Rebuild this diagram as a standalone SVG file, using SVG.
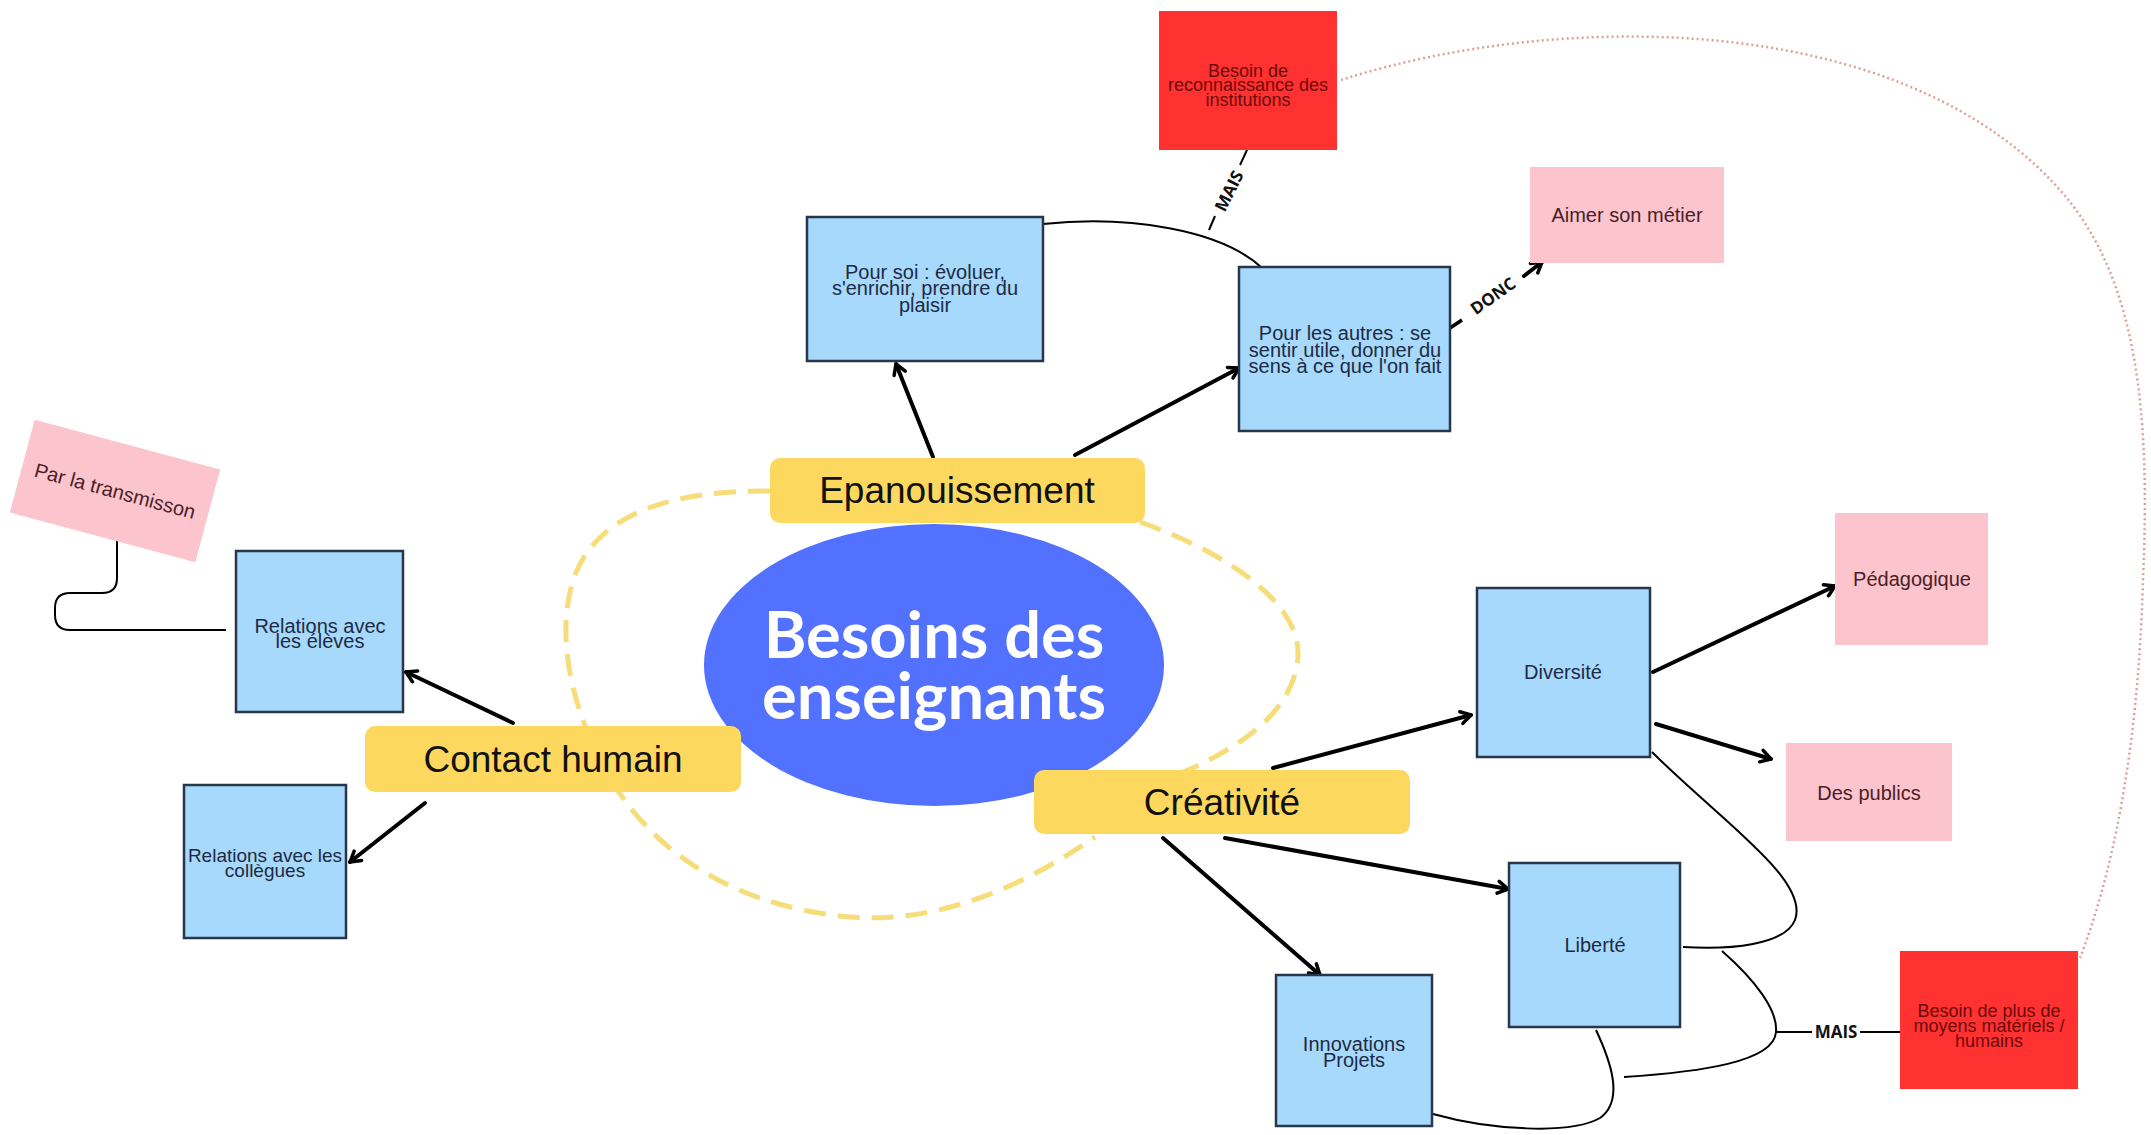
<svg xmlns="http://www.w3.org/2000/svg" width="2151" height="1135" viewBox="0 0 2151 1135">
<style>
.bg{fill:#ffffff}
.box{fill:#a6d9fb;stroke:#27364a;stroke-width:2.5}
.pink{fill:#fcc4cc}
.red{fill:#ff3131}
.pill{fill:#fdd85e}
.t{font-family:"Liberation Sans",Arial,sans-serif;text-anchor:middle}
.tb{fill:#1e2a44;font-size:20px}
.tp{fill:#4a2028;font-size:20px}
.tr{fill:#6b0a0a;font-size:18px}
.tpill{fill:#111111;font-size:37px}
.title{font-family:Lato,"Open Sans",sans-serif;font-weight:700;font-size:65px;fill:#ffffff;text-anchor:middle}
.arrow{stroke:#000;stroke-width:4;fill:none;stroke-linecap:round;marker-end:url(#ah)}
.thin{stroke:#000;stroke-width:2;fill:none}
.lbl{font-family:"Open Sans","Liberation Sans",sans-serif;font-weight:700;font-size:17px;fill:#111;text-anchor:middle}
.dash{stroke:#f6dd7a;stroke-width:5;fill:none;stroke-dasharray:22 12}
.dot{stroke:#d9a394;stroke-width:2.5;fill:none;stroke-dasharray:2 3}
</style>
<defs>
<marker id="ah" viewBox="0 0 16 16" refX="13" refY="8" markerWidth="16" markerHeight="16" markerUnits="userSpaceOnUse" orient="auto">
<path d="M3,2 L13,8 L3,14" fill="none" stroke="#000" stroke-width="3.5" stroke-linecap="round" stroke-linejoin="round"/>
</marker>
</defs>
<rect class="bg" x="0" y="0" width="2151" height="1135"/>

<g id="connectors">
<path class="dash" d="M770,491 C680,490 600,510 575,575 C555,630 570,700 600,760 C640,840 720,905 850,917 C950,925 1040,875 1095,837"/>
<path class="dash" d="M1140,522 C1220,550 1300,600 1298,655 C1296,705 1250,745 1176,775"/>
<path class="dot" d="M1341,80 C1560,10 1900,10 2060,190 C2140,280 2150,420 2143,580 C2138,760 2110,880 2080,958"/>
<line class="arrow" x1="933" y1="457" x2="896" y2="364"/>
<line class="arrow" x1="1075" y1="455" x2="1239" y2="368"/>
<line class="arrow" x1="513" y1="723" x2="406" y2="672"/>
<line class="arrow" x1="425" y1="803" x2="350" y2="862"/>
<line class="arrow" x1="1273" y1="768" x2="1471" y2="715"/>
<line class="arrow" x1="1225" y1="838" x2="1508" y2="889"/>
<line class="arrow" x1="1163" y1="838" x2="1320" y2="975"/>
<line class="arrow" x1="1653" y1="672" x2="1835" y2="586"/>
<line class="arrow" x1="1656" y1="724" x2="1771" y2="759"/>
<path class="thin" d="M1043,224 C1130,215 1220,230 1261,267"/>
<line class="thin" x1="1247" y1="150" x2="1240" y2="165"/>
<line class="thin" x1="1215" y1="216" x2="1209" y2="230"/>
<text class="lbl" x="1229" y="197" transform="rotate(-63 1229 191)">MAIS</text>
<line class="thin" style="stroke-width:3.5" x1="1444" y1="332" x2="1462" y2="320"/>
<line class="arrow" x1="1524" y1="276" x2="1542" y2="262"/>
<text class="lbl" x="1493" y="302" transform="rotate(-35 1493 296)">DONC</text>
<path class="thin" d="M117,541 L117,578 Q117,593 102,593 L70,593 Q55,593 55,608 L55,615 Q55,630 70,630 L226,630"/>
<path class="thin" d="M1652,752 C1720,820 1810,880 1795,920 C1785,945 1730,950 1683,947"/>
<path class="thin" d="M1722,951 C1755,980 1778,1010 1776,1032 C1774,1062 1700,1072 1624,1077"/>
<path class="thin" d="M1596,1030 C1610,1060 1625,1100 1600,1118 C1570,1135 1490,1130 1433,1114"/>
<line class="thin" x1="1776" y1="1032" x2="1812" y2="1032"/>
<line class="thin" x1="1860" y1="1032" x2="1900" y2="1032"/>
<text class="lbl" x="1836" y="1038">MAIS</text>
</g>

<g id="center">
<ellipse cx="934" cy="665" rx="230" ry="141" fill="#5271ff"/>
<text class="title" x="934" y="658">Besoins des</text>
<text class="title" x="934" y="719">enseignants</text>
</g>

<g id="epanouissement">
<rect class="pill" x="770" y="458" width="375" height="65" rx="10"/>
<text class="t tpill" x="957" y="503">Epanouissement</text>
</g>
<g id="contact-humain">
<rect class="pill" x="365" y="726" width="376" height="66" rx="10"/>
<text class="t tpill" x="553" y="772">Contact humain</text>
</g>
<g id="creativite">
<rect class="pill" x="1034" y="770" width="376" height="64" rx="10"/>
<text class="t tpill" x="1222" y="815">Créativité</text>
</g>

<g id="pour-soi">
<rect class="box" x="807" y="217" width="236" height="144"/>
<text class="t tb" x="925" y="279">Pour soi : évoluer,</text>
<text class="t tb" x="925" y="295">s'enrichir, prendre du</text>
<text class="t tb" x="925" y="312">plaisir</text>
</g>
<g id="pour-les-autres">
<rect class="box" x="1239" y="267" width="211" height="164"/>
<text class="t tb" x="1345" y="340">Pour les autres : se</text>
<text class="t tb" x="1345" y="357">sentir utile, donner du</text>
<text class="t tb" x="1345" y="373">sens à ce que l'on fait</text>
</g>
<g id="reconnaissance">
<rect class="red" x="1159" y="11" width="178" height="139"/>
<text class="t tr" x="1248" y="77">Besoin de</text>
<text class="t tr" x="1248" y="91">reconnaissance des</text>
<text class="t tr" x="1248" y="106">institutions</text>
</g>
<g id="aimer-son-metier">
<rect class="pink" x="1530" y="167" width="194" height="96"/>
<text class="t tp" x="1627" y="222">Aimer son métier</text>
</g>
<g id="transmission">
<rect class="pink" x="19" y="443" width="192" height="96" transform="rotate(15 115 491)"/>
<text class="t tp" x="115" y="498" transform="rotate(15 115 491)">Par la transmisson</text>
</g>
<g id="relations-eleves">
<rect class="box" x="236" y="551" width="167" height="161"/>
<text class="t tb" x="320" y="633">Relations avec</text>
<text class="t tb" x="320" y="648">les élèves</text>
</g>
<g id="relations-collegues">
<rect class="box" x="184" y="785" width="162" height="153"/>
<text class="t tb" style="font-size:19px" x="265" y="862">Relations avec les</text>
<text class="t tb" style="font-size:19px" x="265" y="877">collègues</text>
</g>
<g id="diversite">
<rect class="box" x="1477" y="588" width="173" height="169"/>
<text class="t tb" x="1563" y="679">Diversité</text>
</g>
<g id="pedagogique">
<rect class="pink" x="1835" y="513" width="153" height="132"/>
<text class="t tp" x="1912" y="586">Pédagogique</text>
</g>
<g id="des-publics">
<rect class="pink" x="1786" y="743" width="166" height="98"/>
<text class="t tp" x="1869" y="800">Des publics</text>
</g>
<g id="liberte">
<rect class="box" x="1509" y="863" width="171" height="164"/>
<text class="t tb" x="1595" y="952">Liberté</text>
</g>
<g id="innovations">
<rect class="box" x="1276" y="975" width="156" height="151"/>
<text class="t tb" x="1354" y="1051">Innovations</text>
<text class="t tb" x="1354" y="1067">Projets</text>
</g>
<g id="moyens">
<rect class="red" x="1900" y="951" width="178" height="138"/>
<text class="t tr" x="1989" y="1017">Besoin de plus de</text>
<text class="t tr" x="1989" y="1032">moyens matériels /</text>
<text class="t tr" x="1989" y="1047">humains</text>
</g>
</svg>
